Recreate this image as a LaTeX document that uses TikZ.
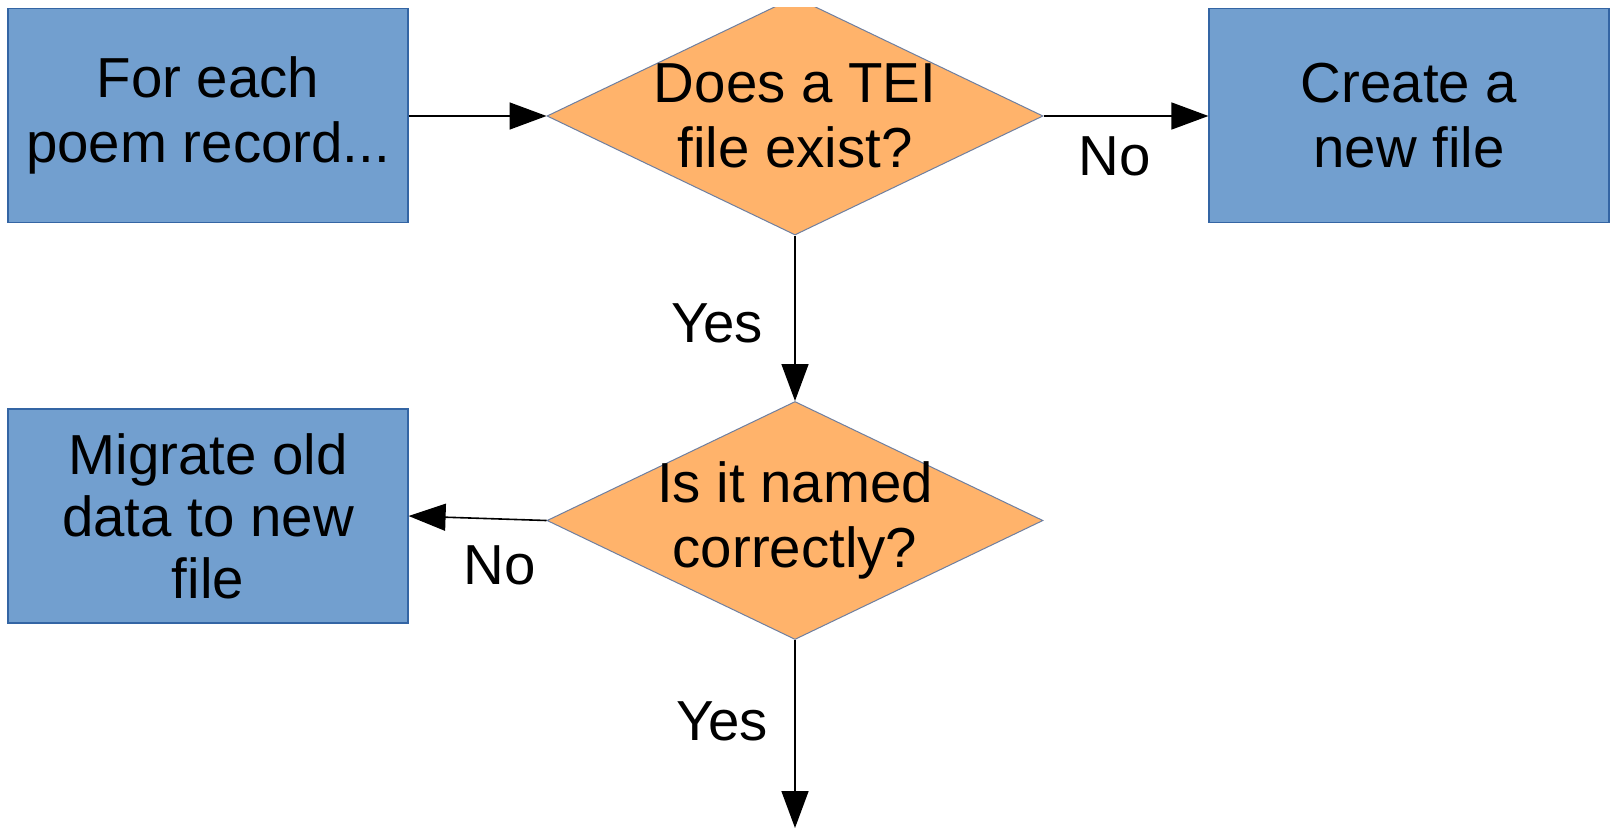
\documentclass[tikz,border=0pt]{standalone}
\usepackage{fontspec}
\setmainfont{Liberation Sans}
\usetikzlibrary{shapes.geometric,arrows.meta}
\definecolor{boxblue}{HTML}{729FCF}
\definecolor{boxline}{HTML}{3465A4}
\definecolor{decorange}{HTML}{FFB36B}
\definecolor{decline}{HTML}{6E7FA0}
\begin{document}
\begin{tikzpicture}[x=0.5pt,y=-0.5pt,
  every node/.style={font=\fontsize{28.2}{32.5}\selectfont, text=black},
  procbox/.style={rectangle, draw=boxline, line width=0.6pt, fill=boxblue,
    minimum width=200pt, minimum height=107pt, inner sep=0pt, align=center},
  decision/.style={diamond, draw=decline, line width=0.5pt, fill=decorange,
    minimum width=248pt, minimum height=119pt, shape aspect=2.08,
    inner sep=-10pt, align=center},
  flow/.style={line width=0.8pt, -{Triangle[length=18.5pt,width=13.5pt]}},
  lbl/.style={inner sep=0pt}]
\useasboundingbox (0,0) rectangle (1610,830);
\fill[white] (0,0) rectangle (1610,830);
\node[procbox] (start) at (208,115.5) {For each\\poem record...};
\begin{scope}
  \clip (0,7) rectangle (1610,830);
  \node[decision] (q1) at (795,116) {Does a TEI\\file exist?};
\end{scope}
\node[procbox] (create) at (1409,115.5) {Create a\\new file};
\node[decision] (q2) at (795,520.5) {Is it named\\correctly?};
\node[procbox, font=\fontsize{28.2}{31}\selectfont] (migrate) at (208,516) {Migrate old\\data to new\\file};
\coordinate (end) at (795,828);
\draw[flow] (start.east |- q1.west) -- (q1.west);
\draw[flow] (q1.east) -- (create.west |- q1.east);
\draw[flow] (q1.south) -- (q2.north);
\draw[flow] (q2.west) -- (migrate.east);
\draw[flow] (q2.south) -- (end);
\node[lbl] (no1) at (1115,156) {No};
\node[lbl] (yes1) at (717,323) {Yes};
\node[lbl] (no2) at (500,565) {No};
\node[lbl] (yes2) at (722,721) {Yes};
\end{tikzpicture}
\end{document}
